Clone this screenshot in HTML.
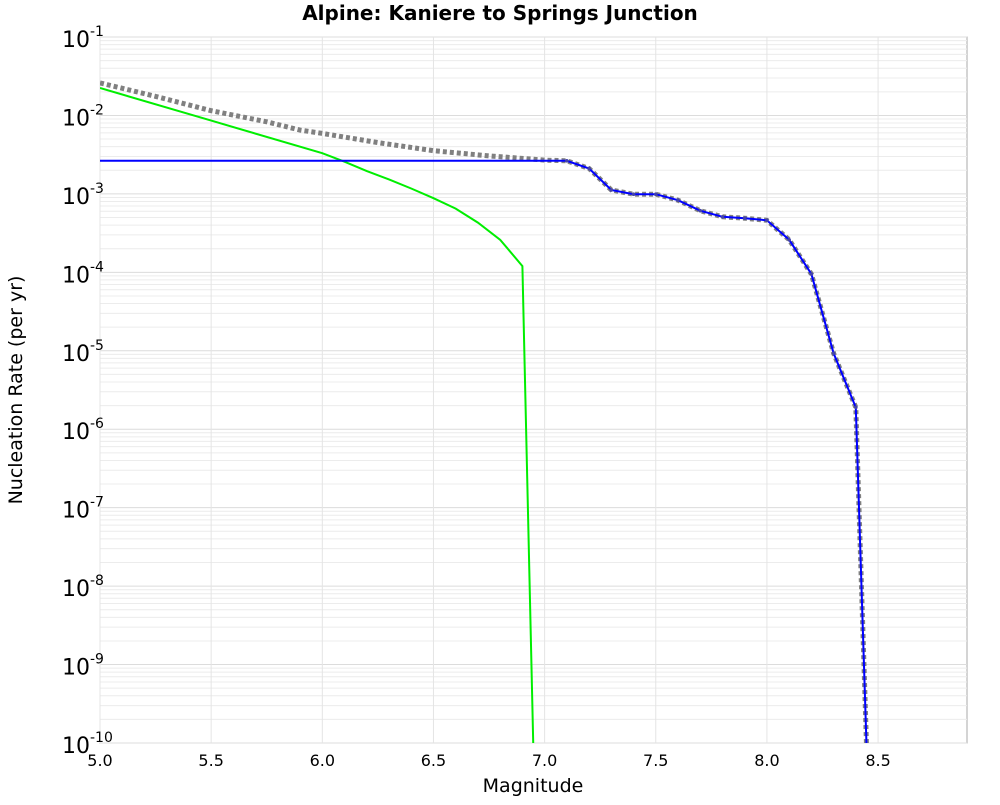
<!DOCTYPE html>
<html><head><meta charset="utf-8"><style>
body{margin:0;background:#fff;font-family:"Liberation Sans",sans-serif}
svg text{font-family:"DejaVu Sans","Liberation Sans",sans-serif}
</style></head><body>
<svg id="c" width="1000" height="800">
<text x="500" y="20" text-anchor="middle" font-size="20" font-weight="bold">Alpine: Kaniere to Springs Junction</text>
<rect x="100" y="37" width="867" height="706" fill="#fff" stroke="#aaa"/>
<g id="grid"></g><g id="series"></g><g id="axes"></g>
<text x="533" y="792" text-anchor="middle" font-size="19">Magnitude</text>
<text transform="translate(22,390) rotate(-90)" text-anchor="middle" font-size="19">Nucleation Rate (per yr)</text>
</svg>
<script>
const xTicks=[5.0,5.5,6.0,6.5,7.0,7.5,8.0,8.5];
const yExps=[-1,-2,-3,-4,-5,-6,-7,-8,-9,-10];
const grayM=[5.0,5.25,5.5,5.75,5.9,6.0,6.25,6.5,6.75,7.0,7.1,7.2,7.3,7.4,7.5,7.6,7.7,7.8,7.9,8.0,8.1,8.2,8.3,8.4,8.45];
const grayV=[2.6e-2,1.75e-2,1.15e-2,8.3e-3,6.5e-3,5.9e-3,4.5e-3,3.55e-3,3.05e-3,2.7e-3,2.64e-3,2.11e-3,1.12e-3,9.9e-4,9.9e-4,8.3e-4,6.1e-4,5.1e-4,4.9e-4,4.6e-4,2.6e-4,9.5e-5,9.3e-6,1.9e-6,6e-11];
const greenM=[5.0,5.5,6.0,6.1,6.2,6.3,6.4,6.5,6.6,6.7,6.8,6.9,6.95];
const greenV=[2.24e-2,8.6e-3,3.3e-3,2.57e-3,1.95e-3,1.53e-3,1.17e-3,8.8e-4,6.5e-4,4.3e-4,2.6e-4,1.2e-4,7e-11];
const blueM=[5.0,7.0,7.1,7.2,7.3,7.4,7.5,7.6,7.7,7.8,7.9,8.0,8.1,8.2,8.3,8.4,8.45];
const blueV=[2.64e-3,2.64e-3,2.64e-3,2.11e-3,1.12e-3,9.9e-4,9.9e-4,8.3e-4,6.1e-4,5.1e-4,4.9e-4,4.6e-4,2.6e-4,9.5e-5,9.3e-6,1.9e-6,6e-11];
const NS="http://www.w3.org/2000/svg";
const X0=100,X1=967,Y0=37,Y1=743,MMIN=5.0,MMAX=8.9;
function xs(m){return X0+(m-MMIN)/(MMAX-MMIN)*(X1-X0);}
function ys(v){return Y0+(-1-Math.log10(v))/9*(Y1-Y0);}
function mk(tag,at,parent){const e=document.createElementNS(NS,tag);for(const k in at)e.setAttribute(k,at[k]);parent.appendChild(e);return e;}
const grid=document.getElementById('grid'),axes=document.getElementById('axes'),ser=document.getElementById('series');
for(let e=-10;e<-1;e++){for(let k=2;k<=9;k++){const y=ys(k*Math.pow(10,e));
const l=mk('line',{x1:X0,x2:X1,y1:y,y2:y,stroke:'#ececec','stroke-width':1},grid);

}}
yExps.forEach(e=>{const y=ys(Math.pow(10,e));
const l=mk('line',{x1:X0,x2:X1,y1:y,y2:y,stroke:'#dcdcdc','stroke-width':1},grid);


const t=mk('text',{x:62,y:y+10,'text-anchor':'start','font-size':22},axes);


t.innerHTML='10<tspan dy="-11" font-size="14">'+e+'</tspan>';});
xTicks.forEach(m=>{const x=xs(m);
const l=mk('line',{x1:x,x2:x,y1:Y0,y2:Y1,stroke:'#e4e4e4','stroke-width':1},grid);


const t=mk('text',{x:x,y:766,'text-anchor':'middle','font-size':16},axes);


t.textContent=m.toFixed(1);});
const cp=mk('clipPath',{id:'cp'},ser);mk('rect',{x:X0,y:Y0,width:X1-X0,height:Y1-Y0},cp);
function pts(M,V){return M.map((m,i)=>xs(m).toFixed(1)+','+ys(V[i]).toFixed(1)).join(' ');}
const g=mk('polyline',{points:pts(grayM,grayV),fill:'none',stroke:'#808080','stroke-width':5,'stroke-dasharray':'4,3','stroke-linejoin':'round','clip-path':'url(#cp)'},ser);


const gr=mk('polyline',{points:pts(greenM,greenV),fill:'none',stroke:'#00ee00','stroke-width':2,'clip-path':'url(#cp)'},ser);


const b=mk('polyline',{points:pts(blueM,blueV),fill:'none',stroke:'#0000ff','stroke-width':2,'clip-path':'url(#cp)'},ser);


blueM.forEach((m,i)=>{if(m<7.05)return;const c=mk('circle',{cx:xs(m),cy:ys(blueV[i]),r:1.8,fill:'#4444aa','clip-path':'url(#cp)'},ser);

});
</script>
</body></html>
